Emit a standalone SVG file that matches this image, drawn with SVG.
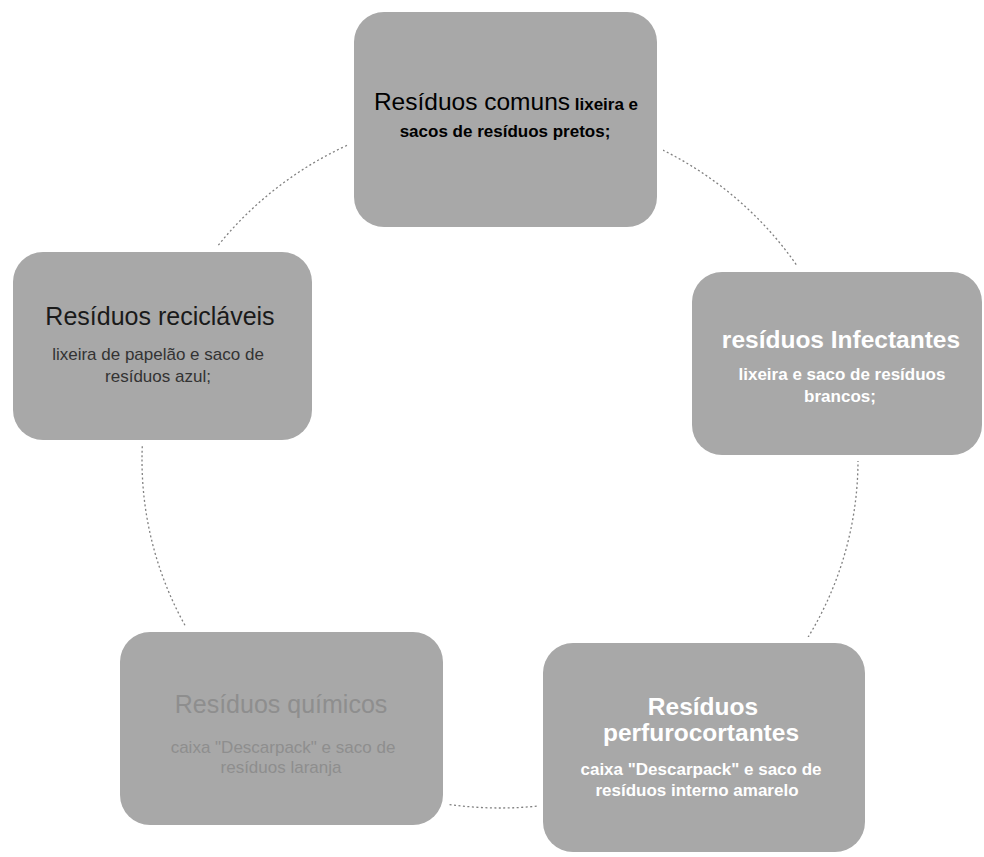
<svg xmlns="http://www.w3.org/2000/svg" width="984" height="857" viewBox="0 0 984 857">
  <style>
    .box { fill: #a8a8a8; stroke: #ffffff; stroke-width: 12; paint-order: stroke; }
    .t { font-family: "Liberation Sans", Arial, sans-serif; text-anchor: middle; }
    .title { font-size: 24.5px; }
    .sub { font-size: 17px; }
    .b { font-weight: bold; }
    .conn { fill: none; stroke: #808080; stroke-width: 1.3; stroke-dasharray: 2 2.5; }
  </style>
  <rect width="984" height="857" fill="#ffffff"/>
  <g id="connectors">
    <ellipse class="conn" cx="500" cy="460" rx="358" ry="348"/>
  </g>
  <g id="node-comuns">
    <rect class="box" x="354" y="12" width="303" height="215" rx="30"/>
    <text class="t" y="110" x="506" fill="#000000"><tspan class="title">Resíduos comuns</tspan><tspan class="sub b"> lixeira e</tspan></text>
    <text class="t sub b" x="505" y="137" fill="#000000">sacos de resíduos pretos;</text>
  </g>
  <g id="node-infectantes">
    <rect class="box" x="692" y="272" width="290" height="183" rx="30"/>
    <text class="t title b" x="841" y="348" fill="#ffffff">resíduos Infectantes</text>
    <text class="t sub b" x="842" y="380" fill="#ffffff">lixeira e saco de resíduos</text>
    <text class="t sub b" x="840" y="402" fill="#ffffff">brancos;</text>
  </g>
  <g id="node-perfurocortantes">
    <rect class="box" x="543" y="643" width="322" height="209" rx="30"/>
    <text class="t title b" x="703" y="715" fill="#ffffff">Resíduos</text>
    <text class="t title b" x="701" y="741" fill="#ffffff">perfurocortantes</text>
    <text class="t sub b" x="701" y="775" fill="#ffffff">caixa "Descarpack" e saco de</text>
    <text class="t sub b" x="697" y="796" fill="#ffffff">resíduos interno amarelo</text>
  </g>
  <g id="node-quimicos">
    <rect class="box" x="120" y="632" width="323" height="193" rx="30"/>
    <text class="t" x="281" y="713" font-size="25" fill="#8e8e8e">Resíduos químicos</text>
    <text class="t sub" x="283" y="753" fill="#8e8e8e">caixa "Descarpack" e saco de</text>
    <text class="t sub" x="281" y="773" fill="#8e8e8e">resíduos laranja</text>
  </g>
  <g id="node-reciclaveis">
    <rect class="box" x="13" y="252" width="299" height="188" rx="30"/>
    <text class="t" x="160" y="325" font-size="25" fill="#1a1a1a">Resíduos recicláveis</text>
    <text class="t sub" x="158" y="360" fill="#333333">lixeira de papelão e saco de</text>
    <text class="t sub" x="158" y="382" fill="#333333">resíduos azul;</text>
  </g>
</svg>
